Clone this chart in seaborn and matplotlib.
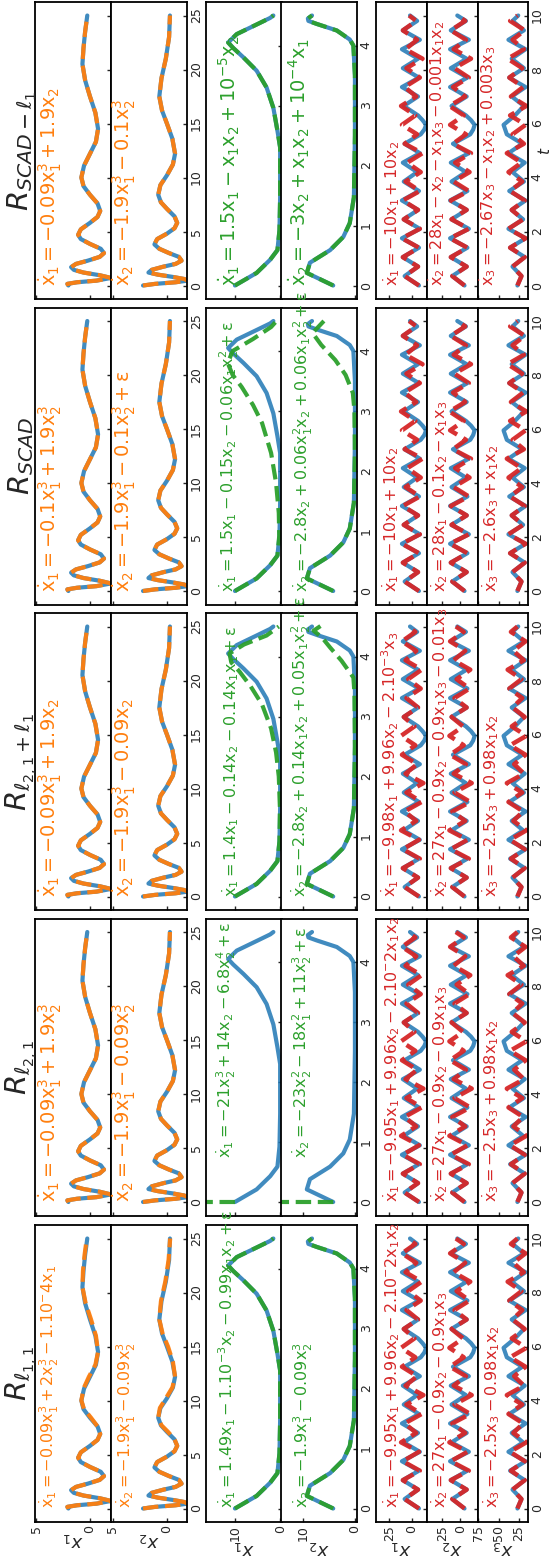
import numpy as np
import matplotlib
matplotlib.use("Agg")
import matplotlib.pyplot as plt
import seaborn as sns

# ---------------- data ----------------
# cubic oscillator, t in [0, 25]
cub_t = [0, 0.15, 0.3, 0.45, 0.7, 0.95, 1.2, 1.45, 1.7, 2.0, 2.3, 2.65, 3.0, 3.4, 3.85, 4.3, 4.7,
         5.2, 5.8, 6.35, 6.9, 7.6, 8.4, 9.2, 10.0, 11.1, 12.2, 13.3, 14.5, 16.0, 17.5, 19.0, 20.5,
         22.0, 23.5, 25.0]
cub_x1 = [2.0, 2.1, 1.2, -0.6, -1.95, -0.9, 0.6, 1.5, 1.75, 1.3, 0.2, -0.9, -1.3, -1.0, 0.0, 0.85,
          1.1, 0.85, 0.0, -0.7, -0.95, -0.7, 0.0, 0.6, 0.8, 0.55, 0.0, -0.55, -0.75, -0.5, 0.0,
          0.45, 0.7, 0.6, 0.45, 0.25]
cub_t2 = [0, 0.15, 0.3, 0.45, 0.6, 0.8, 1.0, 1.2, 1.45, 1.75, 2.0, 2.3, 2.65, 3.0, 3.4, 3.8, 4.3,
          4.8, 5.3, 5.8, 6.4, 7.1, 7.7, 8.4, 9.3, 10.2, 11.2, 12.2, 13.6, 15.0, 16.2, 17.5, 19.2,
          21.0, 23.0, 25.0]
cub_x2 = [2.2, 1.1, -0.8, -1.9, -1.6, -0.5, 0.8, 1.7, 1.4, 0.3, -0.8, -1.35, -1.1, -0.2, 0.7, 1.15,
          0.9, 0.0, -0.7, -0.95, -0.7, 0.0, 0.55, 0.8, 0.6, 0.0, -0.55, -0.75, -0.5, 0.0, 0.45, 0.7,
          0.5, 0.1, -0.2, -0.28]
cub_p_x1 = [2.0, 2.1, 1.2, -0.6, -1.95, -0.9, 0.6, 1.5, 1.75, 1.3, 0.2, -0.9, -1.3, -1.0, 0.0, 0.85,
            1.1, 0.85, 0.0, -0.7, -0.95, -0.7, -0.1, 0.55, 0.8, 0.6, 0.1, -0.5, -0.75, -0.55, -0.1,
            0.4, 0.7, 0.65, 0.5, 0.3]
cub_p_x2 = [2.2, 1.1, -0.8, -1.9, -1.6, -0.5, 0.8, 1.7, 1.4, 0.3, -0.8, -1.35, -1.1, -0.2, 0.7, 1.15,
            0.9, 0.0, -0.7, -0.95, -0.7, -0.1, 0.5, 0.8, 0.65, 0.1, -0.5, -0.75, -0.55, -0.1, 0.4,
            0.7, 0.55, 0.15, -0.15, -0.3]

# Lotka-Volterra, t in [0, 4.5]
lv_t = [0, 0.21, 0.43, 0.59, 0.92, 1.47, 2.3, 2.58, 2.96, 3.3, 3.58, 3.8, 3.96, 4.05, 4.19, 4.35, 4.46, 4.5]
lv_x1 = [10, 5.2, 2.2, 0.6, 0.15, 0.0, 0.0, 0.6, 1.5, 3.0, 5.2, 8.1, 10.4, 11.5, 9.6, 5.2, 2.2, 1.5]
lv_t2 = [0, 0.21, 0.38, 0.59, 0.81, 1.04, 1.47, 2.5, 3.5, 4.0, 4.1, 4.25, 4.36, 4.41, 4.45, 4.5]
lv_x2 = [4.2, 9.3, 8.7, 4.8, 2.25, 1.0, 0.2, 0.0, 0.0, 0.3, 1.0, 3.5, 7.4, 9.0, 9.1, 8.3]
lv_p_l21_t = [0, 0.02]
lv_p_l21_x1 = [10, 1000]
lv_p_l21_x2 = [4.2, 1000]
lv_p_a_t = [0, 0.21, 0.43, 0.59, 0.92, 1.47, 2.0, 2.4, 2.8, 3.2, 3.5, 3.75, 3.9, 4.05, 4.2, 4.35, 4.5]
lv_p_a_x1 = [10, 5.2, 2.2, 0.6, 0.15, 0.05, 0.3, 0.9, 2.0, 4.0, 6.5, 9.0, 10.8, 11.2, 8.0, 3.0, 0.3]
lv_p_a_t2 = [0, 0.21, 0.38, 0.59, 0.81, 1.04, 1.47, 2.5, 3.4, 3.65, 3.93, 4.15, 4.32, 4.43, 4.54]
lv_p_a_x2 = [4.2, 9.3, 8.7, 4.8, 2.25, 1.0, 0.2, 0.0, 0.1, 0.3, 2.6, 4.8, 6.4, 8.0, 6.1]
lv_p_s_t = [0, 0.21, 0.43, 0.59, 0.92, 1.3, 1.8, 2.3, 2.8, 3.1, 3.4, 3.6, 3.8, 4.0, 4.2, 4.4, 4.55]
lv_p_s_x1 = [10, 5.2, 2.2, 0.6, 0.2, 0.3, 0.9, 2.0, 4.0, 6.0, 8.5, 10.5, 11.6, 10.5, 6.0, 2.0, 0.2]
lv_p_s_t2 = [0, 0.21, 0.38, 0.59, 0.81, 1.04, 1.47, 2.3, 3.0, 3.3, 3.6, 3.85, 4.1, 4.3, 4.5]
lv_p_s_x2 = [4.2, 9.3, 8.7, 4.8, 2.25, 1.0, 0.2, 0.0, 0.1, 0.4, 1.8, 3.8, 6.5, 8.2, 6.0]

# Lorenz, t in [0, 10]
lor_t = [0, 0.175, 0.35, 0.525, 0.7, 0.875, 1.05, 1.225, 1.4, 1.575, 1.75, 1.925, 2.1, 2.275,
         2.45, 2.625, 2.8, 2.975, 3.15, 3.325, 3.5, 3.675, 3.85, 4.025, 4.2, 4.375, 4.55, 4.725,
         4.9, 5.075, 5.25, 5.425, 5.6, 5.775, 5.95, 6.125, 6.3, 6.475, 6.65, 6.825, 7.0, 7.175,
         7.35, 7.525, 7.7, 7.875, 8.05, 8.225, 8.4, 8.575, 8.75, 8.925, 9.1, 9.275, 9.45, 9.625,
         9.8, 10.0]
lor_x1 = [-8, 0, 8, 0.5, -7, 1.5, 10, 1, -8, 1.5, 11, 1, -9, 0, 9, 1, -7, 2, 11, 1.5,
          -8, 0.5, 9, 1.5, -6, 2, 10, 0.5, -9, -0.5, 8, -1, -10, -14, -16, -12, -7, 1, 9, 1,
          -7, 2, 11, 1.5, -8, 1, 10, 1.5, -7, 2, 11, 1, -9, 0.5, 10, 2, -6, 2]
lor_x2 = [-6, 2.5, 11, 1, -9, 2, 13, 1.5, -10, 2, 14, 1, -12, 0, 12, 1.5, -9, 2.5, 14, 2,
          -10, 1, 12, 2, -8, 2.5, 13, 0.5, -12, -1, 10, -2, -14, -18, -20, -15, -8, 2, 12, 1.5,
          -9, 2.5, 14, 2, -10, 1.5, 13, 2, -9, 2.5, 14, 1, -12, 0.5, 13, 2.5, -8, 4]
lor_x3 = [27, 24.5, 22, 27.5, 33, 25.5, 18, 27, 36, 26.5, 17, 27.5, 38, 29, 20, 27, 34, 25.5, 17, 27,
          37, 28, 19, 26, 33, 25.5, 18, 28, 38, 29.5, 21, 30.5, 40, 42, 44, 37, 30, 24.5, 19, 26.5,
          34, 25.5, 17, 27, 37, 28, 19, 26.5, 34, 25.5, 17, 27.5, 38, 28.5, 19, 26, 33, 26]
# predictions of the l-norm models (rows l1,1 / l2,1 / l2,1+l1)
lor_pl_x1 = [-8, 0, 8, 0.5, -7, 1.5, 10, 0.5, -9, 0.5, 10, 1, -8, 2, 12, 3.5, -5, 1.5, 8, -1.5,
             -11, -2.5, 6, -3.5, -13, -3, 7, 0.5, -6, 2.5, 11, 3.5, -4, 4, 12, 4.5, -3, 3, 9, 1,
             -7, -0.5, 6, -2, -10, -3, 4, -3.5, -11, -2, 7, 1, -5, 3, 11, 3.5, -4, 5]
lor_pl_x2 = [-6, 2.5, 11, 1, -9, 2, 13, 0.5, -12, 0.5, 13, 1.5, -10, 2.5, 15, 4, -7, 2, 11, -1.5,
             -14, -3, 8, -4, -16, -3.5, 9, 0.5, -8, 3, 14, 4.5, -5, 5, 15, 5.5, -4, 4, 12, 1.5,
             -9, -0.5, 8, -2.5, -13, -4, 5, -4.5, -14, -2.5, 9, 1, -7, 3.5, 14, 4.5, -5, 6]
lor_pl_x3 = [27, 24.5, 22, 27.5, 33, 25.5, 18, 26.5, 35, 26.5, 18, 27, 36, 26, 16, 24, 32, 26, 20, 29,
             38, 29.5, 21, 30.5, 40, 29.5, 19, 25, 31, 24, 17, 26.5, 36, 26, 16, 25, 34, 26, 18, 25.5,
             33, 27, 21, 29, 37, 29.5, 22, 30.5, 39, 29, 19, 25.5, 32, 24.5, 17, 26, 35, 27]
# predictions of the SCAD models (rows SCAD / SCAD-l1)
lor_ps_x1 = [-8, 0, 8, 0.5, -7, 1.5, 10, 1, -8, 1.5, 11, 1, -9, 0, 9, 1, -7, 1.5, 10, 0.5,
             -9, -1, 7, -1.5, -10, -2.5, 5, -3.5, -12, -2, 8, 1, -6, 2.5, 11, 3.5, -4, 4, 12, 3.5,
             -5, 1.5, 8, -0.5, -9, -1.5, 6, -3, -12, -2.5, 7, 0.5, -6, 2, 10, 2.5, -5, 3]
lor_ps_x2 = [-6, 2.5, 11, 1, -9, 2, 13, 1.5, -10, 2, 14, 1, -12, 0, 12, 1.5, -9, 2, 13, 0.5,
             -12, -1.5, 9, -2, -13, -3, 7, -4, -15, -2.5, 10, 1, -8, 3, 14, 4.5, -5, 5, 15, 4,
             -7, 1.5, 10, -1, -12, -2, 8, -3.5, -15, -3, 9, 0.5, -8, 2.5, 13, 3, -7, 4]
lor_ps_x3 = [27, 24.5, 22, 27.5, 33, 25.5, 18, 27, 36, 26.5, 17, 27.5, 38, 29, 20, 27, 34, 26, 18, 27,
             36, 28.5, 21, 29.5, 38, 30, 22, 31, 40, 29.5, 19, 26, 33, 25, 17, 26.5, 36, 26, 16, 25.5,
             35, 27.5, 20, 28.5, 37, 29, 21, 30, 39, 29, 19, 26, 33, 25.5, 18, 27, 36, 27]

titles = [r"$\mathit{R}_{\mathit{SCAD}-\ell_1}$", r"$\mathit{R}_{\mathit{SCAD}}$",
          r"$\mathit{R}_{\ell_{2,1}+\ell_1}$", r"$\mathit{R}_{\ell_{2,1}}$", r"$\mathit{R}_{\ell_{1,1}}$"]

E = r"\varepsilon"
eqs = [
    [r"$\dot{x}_1 = -0.09x_1^3 + 1.9x_2$", r"$\dot{x}_2 = -1.9x_1^3 - 0.1x_2^3$",
     r"$\dot{x}_1 = 1.5x_1 - x_1x_2 + 10^{-5}x_2$", r"$\dot{x}_2 = {-}3x_2 + x_1x_2 + 10^{-4}x_1$",
     r"$\dot{x}_1 = -10x_1 + 10x_2$", r"$\dot{x}_2 = 28x_1 - x_2 - x_1x_3 - 0.001x_1x_2$",
     r"$\dot{x}_3 = -2.67x_3 - x_1x_2 + 0.003x_3$"],
    [r"$\dot{x}_1 = -0.1x_1^3 + 1.9x_2^3$", r"$\dot{x}_2 = -1.9x_1^3 - 0.1x_2^3 + " + E + "$",
     r"$\dot{x}_1 = 1.5x_1 - 0.15x_2 - 0.06x_1x_2^2 + " + E + "$",
     r"$\dot{x}_2 = {-}2.8x_2 + 0.06x_1^2x_2 + 0.06x_1x_2^2 + " + E + "$",
     r"$\dot{x}_1 = -10x_1 + 10x_2$", r"$\dot{x}_2 = 28x_1 - 0.1x_2 - x_1x_3$",
     r"$\dot{x}_3 = -2.6x_3 + x_1x_2$"],
    [r"$\dot{x}_1 = -0.09x_1^3 + 1.9x_2$", r"$\dot{x}_2 = -1.9x_1^3 - 0.09x_2$",
     r"$\dot{x}_1 = 1.4x_1 - 0.14x_2 - 0.14x_1x_1 + " + E + "$",
     r"$\dot{x}_2 = {-}2.8x_2 + 0.14x_1x_2 + 0.05x_1x_2^2 + " + E + "$",
     r"$\dot{x}_1 = -9.98x_1 + 9.96x_2 - 2.10^{-3}x_3$",
     r"$\dot{x}_2 = 27x_1 - 0.9x_2 - 0.9x_1x_3 - 0.01x_3$",
     r"$\dot{x}_3 = -2.5x_3 + 0.98x_1x_2$"],
    [r"$\dot{x}_1 = -0.09x_1^3 + 1.9x_2^3$", r"$\dot{x}_2 = -1.9x_1^3 - 0.09x_2^3$",
     r"$\dot{x}_1 = {-}21x_2^3 + 14x_2 - 6.8x_2^4 + " + E + "$",
     r"$\dot{x}_2 = {-}23x_2^2 - 18x_1^2 + 11x_2^3 + " + E + "$",
     r"$\dot{x}_1 = -9.95x_1 + 9.96x_2 - 2.10^{-}2x_1x_2$",
     r"$\dot{x}_2 = 27x_1 - 0.9x_2 - 0.9x_1x_3$",
     r"$\dot{x}_3 = -2.5x_3 + 0.98x_1x_2$"],
    [r"$\dot{x}_1 = -0.09x_1^3 + 2x_2^3 - 1.10^{-}4x_1$", r"$\dot{x}_2 = -1.9x_1^3 - 0.09x_2^3$",
     r"$\dot{x}_1 = 1.49x_1 - 1.10^{-3}x_2 - 0.99x_1x_2 + " + E + "$",
     r"$\dot{x}_2 = -1.9x_1^3 - 0.09x_2^3$",
     r"$\dot{x}_1 = -9.95x_1 + 9.96x_2 - 2.10^{-}2x_1x_2$",
     r"$\dot{x}_2 = 27x_1 - 0.9x_2 - 0.9x_1x_3$",
     r"$\dot{x}_3 = -2.5x_3 - 0.98x_1x_2$"],
]

# ---------------- layout / style (not data) ----------------
BIG, SMALL = 13.9, 11.5
eq_fs = [[BIG, BIG, BIG, BIG, SMALL, SMALL, SMALL],
         [BIG, BIG, SMALL, SMALL, SMALL, SMALL, SMALL],
         [BIG, BIG, SMALL, SMALL, SMALL, SMALL, SMALL],
         [BIG, BIG, SMALL, SMALL, SMALL, SMALL, SMALL],
         [SMALL, SMALL, SMALL, SMALL, SMALL, SMALL, SMALL]]
eq_base = [[0.275, 0.26, 0.41, 0.33, 0.42, 0.31, 0.32],
           [0.275, 0.26, 0.38, 0.355, 0.40, 0.37, 0.38],
           [0.275, 0.26, 0.40, 0.33, 0.40, 0.37, 0.38],
           [0.275, 0.26, 0.34, 0.35, 0.41, 0.36, 0.38],
           [0.255, 0.27, 0.36, 0.36, 0.41, 0.36, 0.39]]
eq_start = [[13] * 7, [13] * 7, [13] * 7, [13, 13, 58, 58, 13, 13, 13], [14] * 7]
title_x = [-0.075, -0.075, -0.105, -0.105, -0.105]

sns.set_theme(style="ticks")
plt.rcParams["font.family"] = ["DejaVu Sans"]
plt.rcParams["mathtext.fontset"] = "dejavusans"
plt.rcParams["mathtext.default"] = "regular"
plt.rcParams["axes.edgecolor"] = "black"
plt.rcParams["axes.linewidth"] = 1.3

W, H = 551, 1558
fig = plt.figure(figsize=(W / 100, H / 100), dpi=100)

BLUE = "#1f77b4"
COL = {"cub": "#ff7f0e", "lv": "#2ca02c", "lor": "#d62728"}

row_tops = [2, 307.5, 613, 918.5, 1225]
row_h = 297
panels = [(35, 111), (111, 187), (206, 281.5), (281.5, 357), (376, 427), (427, 477.5), (477.5, 528)]
group_of = ["cub", "cub", "lv", "lv", "lor", "lor", "lor"]
vlims = [(5.1, -1.95), (5.15, -1.85), (16.4, -0.3), (14.2, -0.4), (40, -17), (46, -24), (76, 14)]
vticks = [[0, 5], [0, 5], [0, 10], [0, 10], [0, 25], [0, 25], [25, 50, 75]]
tlims = {"cub": (-1.25, 26.25), "lv": (-0.225, 4.725), "lor": (-0.5, 10.5)}
tticks = {"cub": [0, 5, 10, 15, 20, 25], "lv": [0, 1, 2, 3, 4], "lor": [0, 2, 4, 6, 8, 10]}
last_in_group = [False, True, False, True, False, False, True]
vlabels = [r"$\mathit{x}_1$", r"$\mathit{x}_2$", r"$\mathit{x}_1$", r"$\mathit{x}_2$",
           r"$\mathit{x}_1$", r"$\mathit{x}_2$", r"$\mathit{x}_3$"]


def px_axes(x0, x1, y0, y1):
    return fig.add_axes([x0 / W, 1 - y1 / H, (x1 - x0) / W, (y1 - y0) / H])


def series(row, p):
    g = group_of[p]
    if g == "cub":
        tt = [cub_t, cub_t2][p]
        true = [cub_x1, cub_x2][p]
        if row == 4:
            return tt, true, tt, [cub_p_x1, cub_p_x2][p]
        return tt, true, tt, true
    if g == "lv":
        k = p - 2
        tt = [lv_t, lv_t2][k]
        true = [lv_x1, lv_x2][k]
        if row == 3:
            return tt, true, lv_p_l21_t, [lv_p_l21_x1, lv_p_l21_x2][k]
        if row == 2:
            return tt, true, [lv_p_a_t, lv_p_a_t2][k], [lv_p_a_x1, lv_p_a_x2][k]
        if row == 1:
            return tt, true, [lv_p_s_t, lv_p_s_t2][k], [lv_p_s_x1, lv_p_s_x2][k]
        return tt, true, tt, true
    k = p - 4
    true = [lor_x1, lor_x2, lor_x3][k]
    if row <= 1:
        pred = [lor_ps_x1, lor_ps_x2, lor_ps_x3][k]
    else:
        pred = [lor_pl_x1, lor_pl_x2, lor_pl_x3][k]
    return lor_t, true, lor_t, pred


for r in range(5):
    y0 = row_tops[r]
    for p, (xa, xb) in enumerate(panels):
        g = group_of[p]
        ax = px_axes(xa, xb, y0, y0 + row_h)
        t, tr, tp, pr = series(r, p)
        sns.lineplot(x=tr, y=t, sort=False, estimator=None, ax=ax, color=BLUE,
                     lw=3, alpha=0.85, solid_joinstyle="round")
        sns.lineplot(x=pr, y=tp, sort=False, estimator=None, ax=ax, color=COL[g],
                     lw=3.2 if g == "lor" else 3, alpha=0.95, linestyle="--",
                     dash_joinstyle="round")
        ax.set_xlim(*vlims[p])
        ax.set_ylim(*tlims[g])
        ax.yaxis.tick_right()
        ax.set_yticks(tticks[g])
        ax.set_xticks(vticks[p])
        ax.tick_params(axis="both", direction="in", length=3, width=1, labelsize=9, pad=2)
        ax.tick_params(axis="y", labelrotation=90)
        ax.tick_params(axis="x", labelrotation=90)
        if not last_in_group[p]:
            ax.set_yticklabels([])
        else:
            for lab in ax.get_yticklabels():
                lab.set_va("center")
        if r != 4:
            ax.set_xticklabels([])
        else:
            ax.set_xlabel(vlabels[p], rotation=180, fontsize=13, labelpad=-1)
        ax.set_ylabel("")
        ax.text(eq_base[r][p], eq_start[r][p] / row_h, eqs[r][p], transform=ax.transAxes,
                rotation=90, rotation_mode="anchor", ha="left", va="baseline",
                fontsize=eq_fs[r][p], color=COL[g], clip_on=False)
        if p == 0:
            ax.text(title_x[r], 0.5, titles[r], transform=ax.transAxes, rotation=90,
                    rotation_mode="anchor", ha="center", va="baseline", fontsize=21)
        if p == 6 and r == 0:
            ax.text((544.5 - xa) / (xb - xa), 0.5, r"$\mathit{t}$", transform=ax.transAxes,
                    rotation=90, ha="center", va="center", fontsize=11)

fig.savefig("out.png", dpi=100)
